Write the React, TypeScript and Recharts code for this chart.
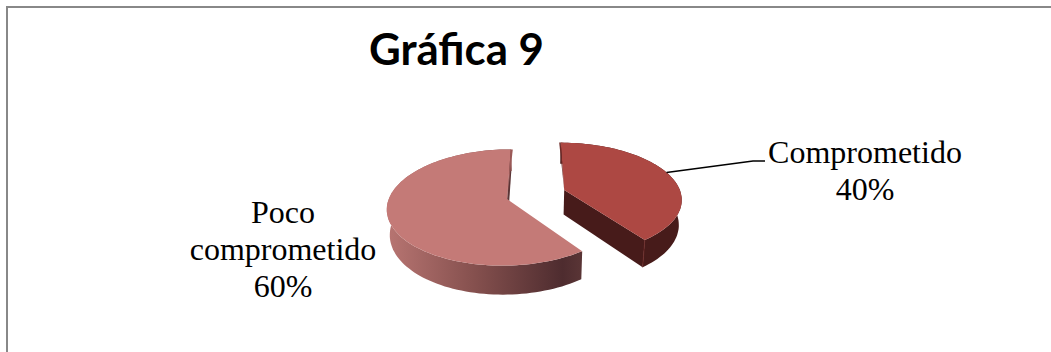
import { PieChart, Pie } from "recharts";

const categories = ["Comprometido", "Poco comprometido"];
const shares = [40, 60];
const topColors = ["#AD4843", "#C47A77"];
const wallColors = ["#471B1A", "url(#wallShade)"];
const rimColors = ["#6E2A27", "#9C5A58"];

// Excel-style 3D view of the flat pie
const CX = 536;
const CY = 194.5;
const RADIUS = 117;
const EXPLODE = 30;
const TILT = 0.475;
const PERSPECTIVE = 0.145;
const DEPTH = 24.5;
const BOTTOM_SCALE = 0.98;

const rows = categories.map((name, i) => ({
  name,
  value: shares[i],
  top: topColors[i],
  wall: wallColors[i],
  rim: rimColors[i],
}));

const rad = (deg: number) => (deg * Math.PI) / 180;

// theta is clockwise from 12 o'clock, r in px on the pie plane
const project = (theta: number, r: number, mid: number, lower = false) => {
  const X = EXPLODE * Math.sin(rad(mid)) + r * Math.sin(rad(theta));
  const V = -EXPLODE * Math.cos(rad(mid)) - r * Math.cos(rad(theta));
  const s = 1 / (1 - (PERSPECTIVE * V) / RADIUS);
  const x = X * s * (lower ? BOTTOM_SCALE : 1);
  const y = TILT * V * s + (lower ? DEPTH * s : 0);
  return [CX + x, CY + y];
};

const toPath = (pts: number[][]) =>
  pts.map((p, i) => `${i ? "L" : "M"}${p[0].toFixed(1)},${p[1].toFixed(1)}`).join(" ") + " Z";

const arc = (from: number, to: number, r: number, mid: number, lower = false) => {
  const steps = Math.ceil(Math.abs(to - from) / 2);
  const pts: number[][] = [];
  for (let i = 0; i <= steps; i++) {
    pts.push(project(from + ((to - from) * i) / steps, r, mid, lower));
  }
  return pts;
};

const Slice3D = (props: any) => {
  const { startAngle, endAngle, outerRadius, payload, index } = props;
  const from = 90 - startAngle;
  const to = 90 - endAngle;
  const mid = (from + to) / 2;
  const topArc = arc(from, to, outerRadius, mid);
  const lowArc = arc(from, to, outerRadius, mid, true);
  const apex = project(0, 0, mid);
  const apexLow = project(0, 0, mid, true);
  const endTop = project(to, outerRadius, mid);
  const endLow = project(to, outerRadius, mid, true);
  // the straight edge at 12 o'clock shows as a thin sliver
  const edge = index === 0 ? topArc[0] : endTop;
  const lean = index === 0 ? -1.5 : 2;
  return (
    <g>
      <defs>
        <linearGradient id="wallShade" x1="0" y1="0" x2="1" y2="0">
          <stop offset="0%" stopColor="#B87572" />
          <stop offset="45%" stopColor="#85504E" />
          <stop offset="90%" stopColor="#4E2C2F" />
          <stop offset="100%" stopColor="#5A3536" />
        </linearGradient>
      </defs>
      <path d={toPath([apex, endTop, endLow, apexLow])} fill={index === 0 ? payload.wall : "#5A3536"} />
      <path d={toPath([...topArc, ...lowArc.slice().reverse()])} fill={payload.wall} />
      <path d={toPath([apex, ...topArc])} fill={payload.top} />
      <path d={toPath([apex, edge, [edge[0] + lean, edge[1]]])} fill={payload.rim} />
      <line x1={endTop[0]} y1={endTop[1]} x2={endLow[0]} y2={endLow[1]} stroke={payload.rim} strokeWidth={0.8} />
    </g>
  );
};

const labelLines = [["Comprometido"], ["Poco", "comprometido"]];
const labelCenter = [865, 283];
const labelBaseline = [163, 223];
const LINE_HEIGHT = 37;

const SliceLabel = (props: any) => {
  const { index, percent, startAngle, endAngle, outerRadius } = props;
  const lines = [...labelLines[index], `${Math.round(percent * 100)}%`];
  const from = 90 - startAngle;
  const to = 90 - endAngle;
  const anchor = project(70, outerRadius, (from + to) / 2);
  return (
    <g>
      {index === 0 && (
        <polyline
          points={`${anchor[0]},${anchor[1]} 753,161 765,161`}
          fill="none"
          stroke="#000"
          strokeWidth={1.5}
        />
      )}
      <text
        textAnchor="middle"
        fontFamily="'Liberation Serif', serif"
        fontSize={32}
        fill="#000"
      >
        {lines.map((line, i) => (
          <tspan key={line} x={labelCenter[index]} y={labelBaseline[index] + i * LINE_HEIGHT}>
            {line}
          </tspan>
        ))}
      </text>
    </g>
  );
};

export default function App() {
  return (
    <div style={{ position: "absolute", left: 0, top: 0, width: 1051, height: 352, background: "#fff" }}>
      <div
        style={{
          position: "absolute",
          left: 6,
          top: 6,
          right: 0,
          bottom: 0,
          borderLeft: "2px solid #888",
          borderTop: "2px solid #888",
        }}
      />
      <PieChart width={1051} height={352} margin={{ top: 0, right: 0, bottom: 0, left: 0 }} style={{ position: "absolute", left: 0, top: 0 }}>
        <text x={456.5} y={65} textAnchor="middle" fontFamily="Lato, sans-serif" fontWeight={700} fontSize={43.8} fill="#000">
          Gráfica 9
        </text>
        <Pie
          data={rows}
          dataKey="value"
          nameKey="name"
          cx={CX}
          cy={CY}
          outerRadius={RADIUS}
          startAngle={90}
          endAngle={-270}
          stroke="none"
          shape={Slice3D}
          label={SliceLabel}
          labelLine={false}
          isAnimationActive={false}
        />
      </PieChart>
    </div>
  );
}
